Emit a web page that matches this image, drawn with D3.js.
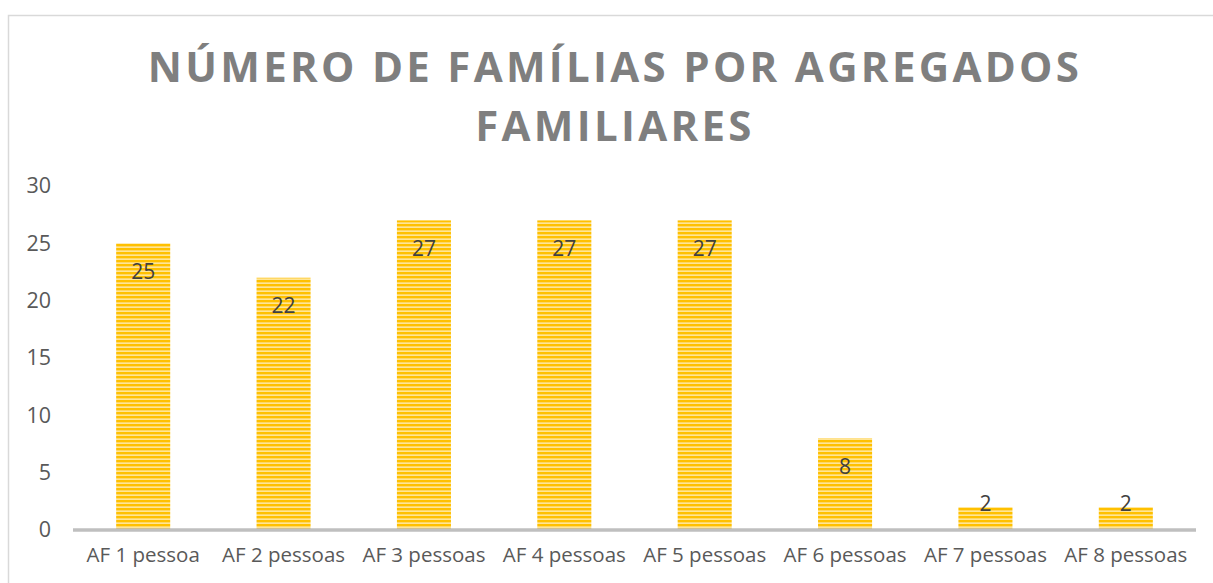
<!DOCTYPE html>
<html>
<head>
<meta charset="utf-8">
<script src="https://cdn.jsdelivr.net/npm/d3@7/dist/d3.min.js"></script>
<style>
  html, body { margin: 0; padding: 0; background: #fff; }
  svg { display: block; }
</style>
</head>
<body>
<svg id="chart" width="1213" height="583"></svg>
<script>
// Household size categories and number of families in each
const categories = ["AF 1 pessoa", "AF 2 pessoas", "AF 3 pessoas", "AF 4 pessoas",
                    "AF 5 pessoas", "AF 6 pessoas", "AF 7 pessoas", "AF 8 pessoas"];
const families = [25, 22, 27, 27, 27, 8, 2, 2];
const yTicks = [0, 5, 10, 15, 20, 25, 30];
const titleLines = ["NÚMERO DE FAMÍLIAS POR AGREGADOS", "FAMILIARES"];

const W = 1213, H = 583;
const margin = { left: 73, right: 17, top: 186, bottom: 53 };
const svg = d3.select("#chart");
const font = "'Open Sans', 'Liberation Sans', sans-serif";

// striped fill for the bars
const defs = svg.append("defs");
const pat = defs.append("pattern")
  .attr("id", "stripes").attr("patternUnits", "userSpaceOnUse")
  .attr("width", 8).attr("height", 4);
pat.append("rect").attr("width", 8).attr("height", 4).attr("fill", "#FFC000");
pat.append("rect").attr("y", 2.4).attr("width", 8).attr("height", 1.5).attr("fill", "#FFE9A6");

// chart frame
svg.append("rect")
  .attr("x", 8.5).attr("y", 15.5).attr("width", W).attr("height", H)
  .attr("fill", "none").attr("stroke", "#d9d9d9").attr("stroke-width", 1.5);

const x = d3.scaleBand()
  .domain(categories)
  .range([margin.left, W - margin.right])
  .paddingInner(0.615).paddingOuter(0.3075);

const y = d3.scaleLinear()
  .domain([0, 30])
  .range([H - margin.bottom, margin.top]);

// title
svg.append("g").selectAll("text")
  .data(titleLines).join("text")
  .attr("x", 615)
  .attr("y", (d, i) => 82 + i * 59)
  .attr("text-anchor", "middle")
  .attr("font-family", font)
  .attr("font-weight", "bold")
  .attr("font-size", 42)
  .attr("letter-spacing", 3.3)
  .attr("fill", "#7f7f7f")
  .text(d => d);

// y axis labels (no axis line)
const yAxis = d3.axisLeft(y).tickValues(yTicks).tickSize(0).tickPadding(0);
const gy = svg.append("g").attr("transform", "translate(51,0)").call(yAxis);
gy.select(".domain").remove();
gy.selectAll("text")
  .attr("font-family", font).attr("font-size", 21.5).attr("fill", "#595959");

// bars
svg.append("g").selectAll("rect")
  .data(families).join("rect")
  .attr("x", (d, i) => x(categories[i]))
  .attr("y", d => y(d))
  .attr("width", x.bandwidth())
  .attr("height", d => y(0) - y(d))
  .attr("fill", "url(#stripes)");

// x axis
const xAxis = d3.axisBottom(x).tickSize(0).tickPadding(17);
const gx = svg.append("g").attr("transform", `translate(0,${y(0)})`).call(xAxis);
gx.select(".domain").attr("stroke", "#bfbfbf").attr("stroke-width", 3.5)
  .attr("d", `M${margin.left},0H${W - margin.right}`);
gx.selectAll("text")
  .attr("font-family", font).attr("font-size", 20.5).attr("fill", "#595959");

// value labels inside bar tops
svg.append("g").selectAll("text")
  .data(families).join("text")
  .attr("x", (d, i) => x(categories[i]) + x.bandwidth() / 2)
  .attr("y", d => Math.min(y(d) + 28, y(0) - 26))
  .attr("dy", "0.35em")
  .attr("text-anchor", "middle")
  .attr("font-family", font).attr("font-size", 21).attr("fill", "#404040")
  .text(d => d);
</script>
</body>
</html>
